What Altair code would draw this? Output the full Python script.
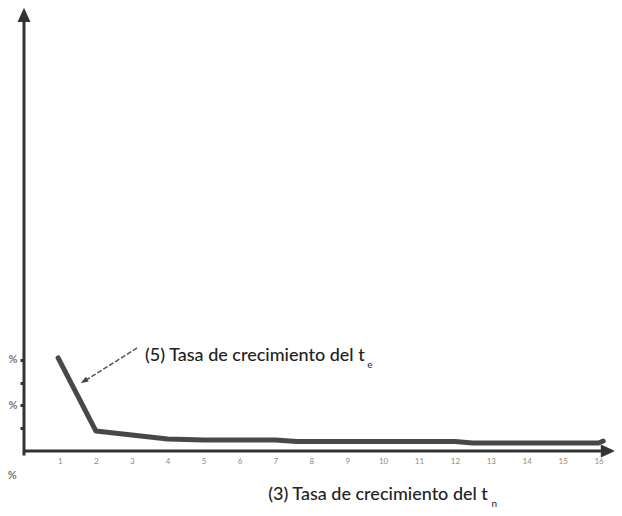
import altair as alt
import pandas as pd

# --- data ---
x_vals = [0.95, 2.0, 3.0, 4.0, 5.0, 6.0, 7.0, 7.6, 8.0, 9.0, 10.0, 11.0, 12.0, 12.5, 13.0, 14.0, 15.0, 16.0, 16.13]
y_vals = [4.09, 0.88, 0.70, 0.53, 0.48, 0.48, 0.48, 0.42, 0.42, 0.42, 0.42, 0.42, 0.42, 0.35, 0.35, 0.35, 0.35, 0.35, 0.44]
x_ticks = list(range(1, 17))
y_ticks = [1, 2, 3, 4]

label_main = ["(5) Tasa de crecimiento del t", "(3) Tasa de crecimiento del t"]
label_main_x = [3.37, 6.8]
label_main_y = [4.18, -1.95]
label_sub = ["e", "n"]
label_sub_x = [9.56, 13.02]
label_sub_y = [3.78, -2.32]

pct_extra = ["%"]
pct_extra_x = [-0.33]
pct_extra_y = [-1.1]

arrow_from = (3.15, 4.53)
arrow_to = (1.73, 3.12)

X_MAX = 16.43
Y_MAX = 19.47

xs = alt.Scale(domain=[0, X_MAX], nice=False, zero=False)
ys = alt.Scale(domain=[0, Y_MAX], nice=False, zero=False)

line_df = pd.DataFrame({"x": x_vals, "y": y_vals})
ink = "#333333"

xaxis = alt.Axis(values=x_ticks, domain=False, ticks=False, grid=False, title=None,
                 labelFontSize=8, labelColor="#8a8a8a", labelPadding=6,
                 labelOverlap=False, labelFont="Lato")
yaxis = alt.Axis(values=y_ticks, domain=False, ticks=True, tickSize=4, tickWidth=3,
                 tickColor=ink, grid=False, title=None,
                 labelExpr="datum.value == 2 || datum.value == 4 ? '%' : ''",
                 labelFontSize=11, labelColor="#777777", labelPadding=3,
                 labelOverlap=False, labelFont="Lato", labelFontWeight="bold")

def X(f="x:Q"):
    return alt.X(f, scale=xs, axis=xaxis)

def Y(f="y:Q"):
    return alt.Y(f, scale=ys, axis=yaxis)

# axes drawn as rules
axes_df = pd.DataFrame({"x": [0, 0], "y": [0, -0.2], "x2": [16.2, 0], "y2": [0, 18.9]})
axes = alt.Chart(axes_df).mark_rule(color=ink, strokeWidth=3).encode(
    x=X(), y=Y(), x2="x2:Q", y2="y2:Q",
)

heads_df = pd.DataFrame({"x": [0, 16.22], "y": [19.1, 0], "ang": [0, 90]})
heads = alt.Chart(heads_df).mark_point(
    shape="M0,-1L0.75,0.65L-0.75,0.65Z", filled=True, color=ink, size=300, opacity=1
).encode(x=X(), y=Y(), angle=alt.Angle("ang:Q", scale=None))

line = alt.Chart(line_df).mark_line(color="#484848", strokeWidth=5, strokeJoin="round", strokeCap="round").encode(
    x=X(), y=Y()
)

arr_df = pd.DataFrame({"x": [arrow_from[0]], "y": [arrow_from[1]],
                       "x2": [arrow_to[0]], "y2": [arrow_to[1]]})
arr = alt.Chart(arr_df).mark_rule(color="#555555", strokeWidth=1.5, strokeDash=[5, 2]).encode(
    x=X(), y=Y(), x2="x2:Q", y2="y2:Q"
)
arr_head_df = pd.DataFrame({"x": [arrow_to[0] - 0.06], "y": [arrow_to[1] - 0.05], "ang": [238]})
arr_head = alt.Chart(arr_head_df).mark_point(
    shape="M0,-1L0.7,1L-0.7,1Z", filled=True, color="#444444", size=60, opacity=1
).encode(x=X(), y=Y(), angle=alt.Angle("ang:Q", scale=None))

txt_df = pd.DataFrame({"t": label_main, "x": label_main_x, "y": label_main_y})
txt = alt.Chart(txt_df).mark_text(align="left", baseline="middle", font="Lato", fontSize=18,
                                  fontWeight=500, color="#222222").encode(
    x=X(), y=Y(), text="t:N")

sub_df = pd.DataFrame({"t": label_sub, "x": label_sub_x, "y": label_sub_y})
sub = alt.Chart(sub_df).mark_text(align="left", baseline="middle", font="Lato", fontSize=10,
                                  color="#222222").encode(
    x=X(), y=Y(), text="t:N")

pct_df = pd.DataFrame({"t": pct_extra, "x": pct_extra_x, "y": pct_extra_y})
pct = alt.Chart(pct_df).mark_text(align="center", baseline="middle", font="Lato", fontSize=11,
                                  fontWeight="bold", color="#777777").encode(
    x=X(), y=Y(), text="t:N")

chart = alt.layer(axes, heads, line, arr, arr_head, txt, sub, pct).properties(
    width=590, height=443,
    autosize=alt.AutoSizeParams(type="none"),
    padding={"left": 16, "top": 0, "right": 0, "bottom": 57},
).configure(background="white").configure_view(stroke=None).configure_axis(labelOverlap=False)

chart.save("out.html", embed_options={"renderer": "svg", "actions": False})
